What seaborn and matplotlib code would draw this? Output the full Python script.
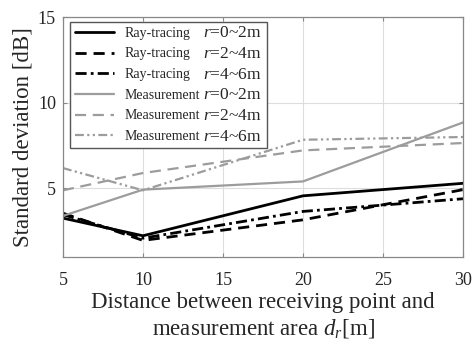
import matplotlib
matplotlib.use("Agg")
import matplotlib.pyplot as plt
from matplotlib.patches import Rectangle
import seaborn as sns
import pandas as pd

distances = [5, 10, 20, 30]
ray_0_2 = [3.27, 2.24, 4.57, 5.30]
ray_2_4 = [3.56, 1.97, 3.17, 4.93]
ray_4_6 = [3.47, 2.10, 3.66, 4.40]
meas_0_2 = [3.40, 4.93, 5.41, 8.85]
meas_2_4 = [4.89, 5.90, 7.22, 7.65]
meas_4_6 = [6.19, 4.89, 7.84, 8.00]

methods = ["Ray-tracing", "Ray-tracing", "Ray-tracing",
           "Measurement", "Measurement", "Measurement"]
ranges = ["0~2m", "2~4m", "4~6m", "0~2m", "2~4m", "4~6m"]
series = [ray_0_2, ray_2_4, ray_4_6, meas_0_2, meas_2_4, meas_4_6]
xticks = [5, 10, 15, 20, 25, 30]
yticks = [5, 10, 15]

sns.set_style("ticks")
plt.rcParams["font.family"] = ["Liberation Serif", "DejaVu Serif"]
plt.rcParams["mathtext.fontset"] = "custom"
plt.rcParams["mathtext.rm"] = "Liberation Serif"
plt.rcParams["mathtext.it"] = "Liberation Serif:italic"

fig = plt.figure(figsize=(4.73, 3.40), dpi=100)
ax = fig.add_axes([0.133, 0.244, 0.846, 0.706])

styles = [
    dict(color="black", lw=2.0, ls="-"),
    dict(color="black", lw=2.0, ls=(0, (4, 2.5))),
    dict(color="black", lw=2.0, ls=(0, (4, 1.5, 1, 1.5))),
    dict(color="#9c9c9c", lw=1.6, ls="-"),
    dict(color="#9c9c9c", lw=1.6, ls=(0, (5, 3))),
    dict(color="#9c9c9c", lw=1.6, ls=(0, (4, 1.5, 1, 1.5, 1, 1.5))),
]

for vals, m, st in zip(series, methods, styles):
    df = pd.DataFrame({"d": distances, "sd": vals})
    sns.lineplot(data=df, x="d", y="sd", ax=ax, color=st["color"],
                 linewidth=st["lw"], linestyle=st["ls"], label=m)

ax.set_xlim(5, 30)
ax.set_ylim(1, 15)
ax.set_xticks(xticks)
ax.set_yticks(yticks)
ax.grid(True, color="#dddddd", lw=0.8)
for s in ax.spines.values():
    s.set_color("#888888")
    s.set_linewidth(0.9)
ax.tick_params(direction="in", length=3, color="#888888", labelsize=13,
               top=True, right=True)
ax.tick_params(axis="x", pad=11)
ax.tick_params(axis="y", pad=5)

ax.set_xlabel("Distance between receiving point and\nmeasurement area $d_r$[m]",
              fontsize=16.5, linespacing=1.25, labelpad=2)
ax.set_ylabel("Standard deviation [dB]", fontsize=16.5, labelpad=3)

leg = ax.legend(loc="upper left", fontsize=10, frameon=False,
                handlelength=2.8, borderpad=0.0, labelspacing=0.55,
                handletextpad=0.8, bbox_to_anchor=(0.0125, 0.988))

fig.canvas.draw()
renderer = fig.canvas.get_renderer()
texts = leg.get_texts()
inv = fig.transFigure.inverted()
x0 = max(t.get_window_extent(renderer).x1 for t in texts) + 3
rtexts = []
for t, r in zip(texts, ranges):
    bb = t.get_window_extent(renderer)
    yc = (bb.y0 + bb.y1) / 2
    fx, fy = inv.transform((x0, yc))
    rt = ax.text(fx, fy, "$r$=" + r, fontsize=12.5, va="center", ha="left",
                 transform=fig.transFigure, zorder=7)
    rtexts.append(rt)

fig.canvas.draw()
lb = leg.get_window_extent(renderer)
rx1 = max(t.get_window_extent(renderer).x1 for t in rtexts)
px0, py0 = lb.x0 - 5, lb.y0 - 5
px1, py1 = rx1 + 5, lb.y1 + 5
(fx0, fy0) = inv.transform((px0, py0))
(fx1, fy1) = inv.transform((px1, py1))
frame = Rectangle((fx0, fy0), fx1 - fx0, fy1 - fy0, transform=fig.transFigure,
                  facecolor="white", edgecolor="#555555", lw=1.0, zorder=4.5)
ax.add_patch(frame)

fig.savefig("out.png", dpi=100)
